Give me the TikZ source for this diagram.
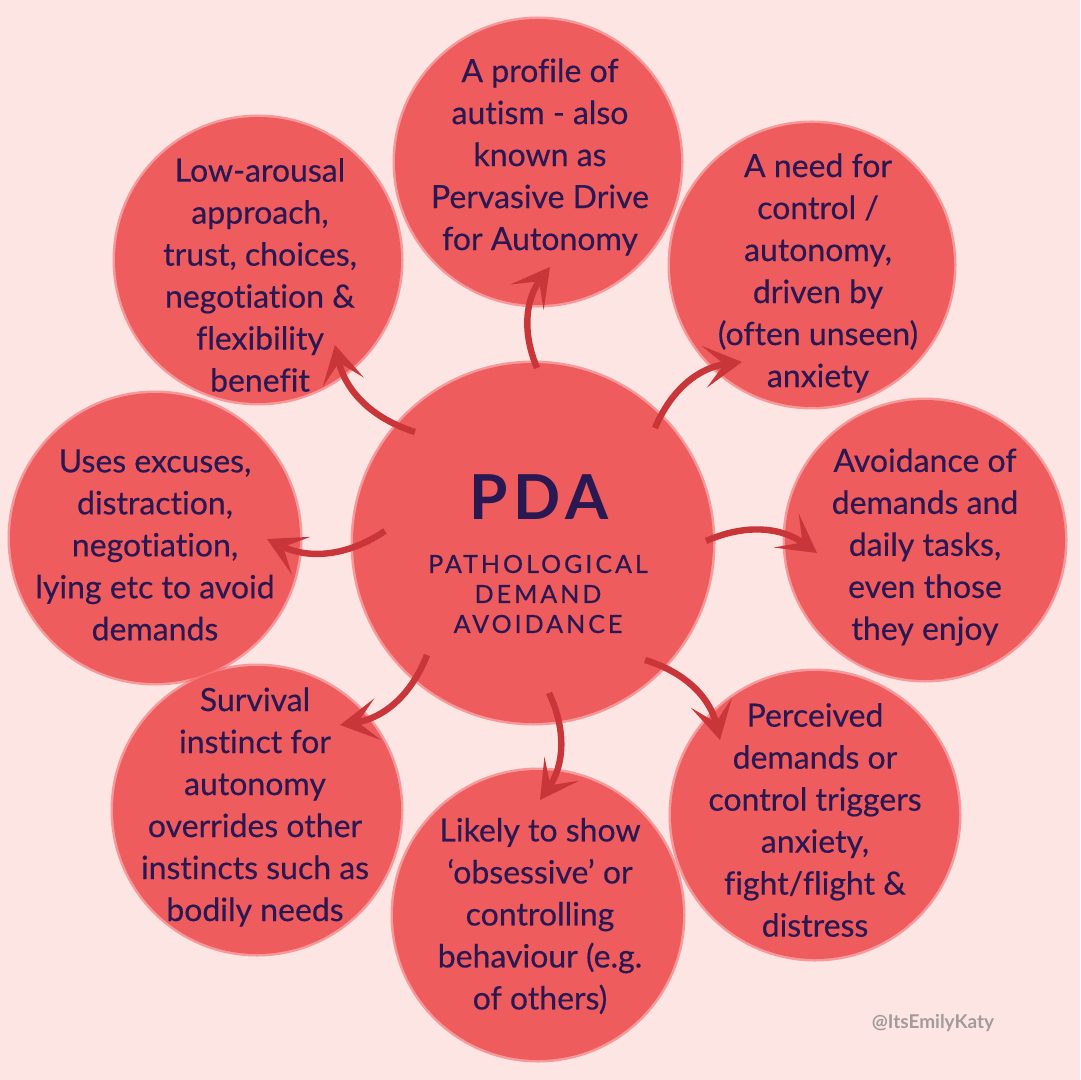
\documentclass[tikz,border=0pt]{standalone}
\usepackage{fontspec}
\setmainfont{Lato}[Ligatures=NoCommon]
\usetikzlibrary{arrows.meta}
\definecolor{bg}{HTML}{FDE5E4}
\definecolor{blob}{HTML}{EF5C5E}
\definecolor{arr}{HTML}{C8363A}
\definecolor{ink}{HTML}{2A1852}
\definecolor{mark}{HTML}{A39A9A}
\begin{document}
\begin{tikzpicture}[x=0.5pt,y=-0.5pt,
 blobc/.style={circle, fill=blob, draw=blob, draw opacity=0.55, line width=2.5pt, minimum size=#1, inner sep=0pt},
 txt/.style={text=ink, align=center, font=\fontsize{16}{21}\selectfont\addfontfeature{FakeBold=0.4}},
 arrow/.style={draw=arr, line width=3.2pt, -{Stealth[length=19pt,width=21pt,inset=10pt]}, bend left=30}
]
\fill[bg] (0,0) rectangle (1080,1080);
\useasboundingbox (0,0) rectangle (1080,1080);

% circles
\node[blobc=180pt] (pda) at (533,543) {};
\node[blobc=143pt] (c1) at (538,162) {};
\node[blobc=142pt] (c2) at (812,265) {};
\node[blobc=140pt] (c3) at (925,540) {};
\node[blobc=144pt] (c4) at (815,815) {};
\node[blobc=145pt] (c5) at (538,915) {};
\node[blobc=144pt] (c6) at (257,810) {};
\node[blobc=145pt] (c7) at (155,538) {};
\node[blobc=143pt] (c8) at (258,260) {};

% texts
\node[text=ink, font=\bfseries\fontsize{31}{31}\selectfont\addfontfeature{LetterSpace=10}] (tpda) at (539,497) {PDA};
\node[text=ink, align=center, font=\fontsize{12.5}{15}\selectfont\addfontfeature{LetterSpace=12,FakeBold=0.6}] (tsub) at (538,594) {PATHOLOGICAL\\DEMAND\\AVOIDANCE};

\node[txt] (t1) at (540,157) {A profile of\\autism - also\\known as\\Pervasive Drive\\for Autonomy};
\node[txt] (t2) at (818,273) {A need for\\control /\\autonomy,\\driven by\\(often unseen)\\anxiety};
\node[txt] (t3) at (925,547) {Avoidance of\\demands and\\daily tasks,\\even those\\they enjoy};
\node[txt] (t4) at (815,820) {Perceived\\demands or\\control triggers\\anxiety,\\fight/flight \&\\distress};
\node[txt] (t5) at (540,916) {Likely to show\\‘obsessive’ or\\controlling\\behaviour (e.g.\\of others)};
\node[txt] (t6) at (255,807) {Survival\\instinct for\\autonomy\\overrides other\\instincts such as\\bodily needs};
\node[txt] (t7) at (155,545) {Uses excuses,\\distraction,\\negotiation,\\lying etc to avoid\\demands};
\node[txt] (t8) at (260,275) {Low-arousal\\approach,\\trust, choices,\\negotiation \&\\flexibility\\benefit};

\node[text=mark, font=\bfseries\fontsize{9.5}{10}\selectfont] (wm) at (933,1023) {@ItsEmilyKaty};

% arrow endpoints
\coordinate (s1) at (537,368); \coordinate (e1) at (550,267);
\coordinate (s2) at (655,428); \coordinate (e2) at (742,362);
\coordinate (s3) at (706,541); \coordinate (e3) at (817,553);
\coordinate (s4) at (645,660); \coordinate (e4) at (720,740);
\coordinate (s5) at (549,693); \coordinate (e5) at (540,800);
\coordinate (s6) at (427,655); \coordinate (e6) at (340,725);
\coordinate (s7) at (385,531); \coordinate (e7) at (267,539);
\coordinate (s8) at (415,432); \coordinate (e8) at (335,345);

\foreach \i in {1,...,8} { \draw[arrow] (s\i) to (e\i); }
\end{tikzpicture}
\end{document}
